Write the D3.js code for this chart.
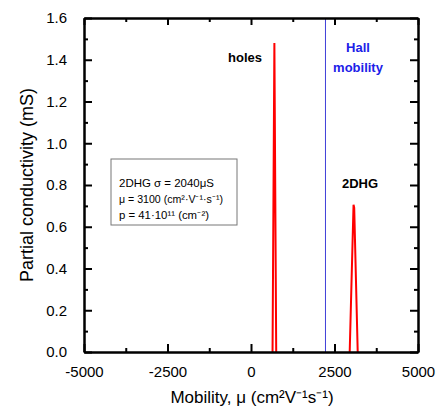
<!DOCTYPE html>
<html>
<head>
<meta charset="utf-8">
<script src="https://cdn.jsdelivr.net/npm/d3@7"></script>
</head>
<body style="margin:0">
<div id="chart"></div>
<script>
var svgWidth = 439;
var svgHeight = 413;

var margin = { top: 18, right: 21, bottom: 61, left: 84 };
var width = svgWidth - margin.left - margin.right;
var height = svgHeight - margin.top - margin.bottom;

// data
var xMajorTicks = [-5000, -2500, 0, 2500, 5000];
var xMinorTicks = [-3750, -1250, 1250, 3750];
var yMajorTicks = [0, 0.2, 0.4, 0.6, 0.8, 1.0, 1.2, 1.4, 1.6];
var yMinorTicks = [0.1, 0.3, 0.5, 0.7, 0.9, 1.1, 1.3, 1.5];
var holesMu = [645, 700, 755];
var holesSigma = [0, 1.48, 0];
var dhgMu = [2955, 3070, 3090, 3195];
var dhgSigma = [0, 0.705, 0.69, 0];
var hallMobility = 2230;
var insetLines = ["2DHG σ = 2040μS", "μ = 3100 (cm²·V⁻¹·s⁻¹)", "p = 41·10¹¹ (cm⁻²)"];

var font = "Liberation Sans, Arial, sans-serif";

var svg = d3.select("#chart").append("svg")
    .attr("width", svgWidth).attr("height", svgHeight)
    .attr("font-family", font);

var chartGroup = svg.append("g")
    .attr("transform", `translate(${margin.left}, ${margin.top})`);

var x = d3.scaleLinear().domain([-5000, 5000]).range([0, width]);
var y = d3.scaleLinear().domain([0, 1.6]).range([height, 0]);

// hall mobility line
chartGroup.append("line")
    .attr("x1", x(hallMobility)).attr("x2", x(hallMobility))
    .attr("y1", 0).attr("y2", height)
    .attr("stroke", "#4040d8").attr("stroke-width", 1);

var line = d3.line().x(d => x(d[0])).y(d => y(d[1]));

chartGroup.append("path")
    .datum(holesMu.map((m, i) => [m, holesSigma[i]]))
    .attr("d", line).attr("fill", "none")
    .attr("stroke", "#ff0000").attr("stroke-width", 2);

chartGroup.append("path")
    .datum(dhgMu.map((m, i) => [m, dhgSigma[i]]))
    .attr("d", line).attr("fill", "none")
    .attr("stroke", "#ff0000").attr("stroke-width", 2);

// axes, ticks inward, domain lines kept as the frame
function addAxis(axis, tx, ty) {
    var g = chartGroup.append("g").attr("transform", `translate(${tx}, ${ty})`).call(axis);
    g.attr("font-family", font).attr("font-size", 15);
    g.select(".domain").attr("stroke", "#000").attr("stroke-width", 2);
    g.selectAll(".tick line").attr("stroke", "#000").attr("stroke-width", 2);
    g.selectAll(".tick text").attr("fill", "#000");
    return g;
}

addAxis(d3.axisBottom(x).tickValues(xMajorTicks).tickSize(-8).tickSizeOuter(0).tickPadding(14).tickFormat(d => String(d)), 0, height);
addAxis(d3.axisBottom(x).tickValues(xMinorTicks).tickSize(-4).tickSizeOuter(0).tickFormat(""), 0, height);
addAxis(d3.axisTop(x).tickValues(xMajorTicks).tickSize(-7).tickSizeOuter(0).tickFormat(""), 0, 0);
addAxis(d3.axisTop(x).tickValues(xMinorTicks).tickSize(-4).tickSizeOuter(0).tickFormat(""), 0, 0);
addAxis(d3.axisLeft(y).tickValues(yMajorTicks).tickSize(-8).tickSizeOuter(0).tickPadding(17).tickFormat(d3.format(".1f")), 0, 0);
addAxis(d3.axisLeft(y).tickValues(yMinorTicks).tickSize(-4).tickSizeOuter(0).tickFormat(""), 0, 0);
addAxis(d3.axisRight(y).tickValues(yMajorTicks).tickSize(-8).tickSizeOuter(0).tickFormat(""), width, 0);
addAxis(d3.axisRight(y).tickValues(yMinorTicks).tickSize(-4).tickSizeOuter(0).tickFormat(""), width, 0);

// labels
chartGroup.append("text").attr("x", 161).attr("y", 44)
    .attr("text-anchor", "middle").attr("font-size", 13).attr("font-weight", "bold")
    .text("holes");
chartGroup.append("text").attr("x", 274).attr("y", 34)
    .attr("text-anchor", "middle").attr("font-size", 13).attr("font-weight", "bold")
    .attr("fill", "#2020e8").text("Hall");
chartGroup.append("text").attr("x", 274).attr("y", 54)
    .attr("text-anchor", "middle").attr("font-size", 13).attr("font-weight", "bold")
    .attr("fill", "#2020e8").text("mobility");
chartGroup.append("text").attr("x", 276).attr("y", 170)
    .attr("text-anchor", "middle").attr("font-size", 13).attr("font-weight", "bold")
    .text("2DHG");

// inset box
var inset = chartGroup.append("g").attr("transform", "translate(27, 141)");
inset.append("rect").attr("width", 126).attr("height", 66)
    .attr("fill", "#fff").attr("stroke", "#777").attr("stroke-width", 1);
inset.selectAll("text.inset").data(insetLines).enter().append("text")
    .attr("class", "inset")
    .attr("x", 8).attr("y", (d, i) => 28 + i * 16)
    .attr("font-size", 10.5).attr("textLength", (d, i) => [95, 104, 90][i])
    .attr("lengthAdjust", "spacingAndGlyphs")
    .text(d => d);

// axis titles
svg.append("text")
    .attr("x", margin.left + width / 2 + 1).attr("y", 403)
    .attr("text-anchor", "middle").attr("font-size", 17)
    .text("Mobility, μ (cm²V⁻¹s⁻¹)");

svg.append("text")
    .attr("transform", `translate(33, ${margin.top + height / 2}) rotate(-90)`)
    .attr("text-anchor", "middle").attr("font-size", 18)
    .text("Partial conductivity (mS)");
</script>
</body>
</html>
